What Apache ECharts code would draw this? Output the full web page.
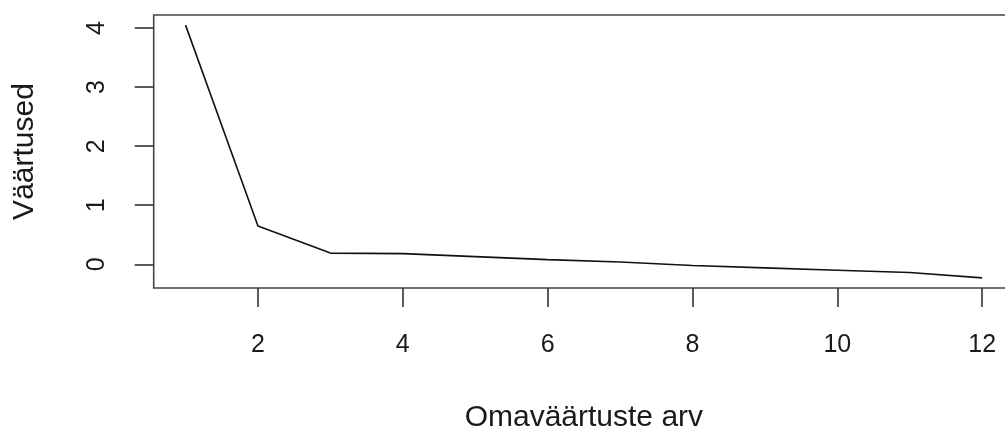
<!DOCTYPE html>
<html>
<head>
<meta charset="utf-8">
<script src="https://cdn.jsdelivr.net/npm/echarts@6/dist/echarts.min.js"></script>
<style>html,body{margin:0;padding:0;background:#fff}#c{width:1005px;height:436px}</style>
</head>
<body>
<div id="c"></div>
<script>
const xs = [1, 2, 3, 4, 5, 6, 7, 8, 9, 10, 11, 12];
const values = [4.05, 0.65, 0.19, 0.18, 0.13, 0.08, 0.04, -0.02, -0.06, -0.10, -0.14, -0.23];
const xTicks = [2, 4, 6, 8, 10, 12];
const yTicks = [0, 1, 2, 3, 4];
const xTitle = 'Omaväärtuste arv';
const yTitle = 'Väärtused';

const xMinD = Math.min(...xs), xMaxD = Math.max(...xs);
const yMinD = Math.min(...values), yMaxD = Math.max(...values);
const xPad = 0.04 * (xMaxD - xMinD), yPad = 0.04 * (yMaxD - yMinD);

const font = 'Liberation Sans, Arial, Helvetica, sans-serif';
const chart = echarts.init(document.getElementById('c'), null, {renderer: 'canvas'});
chart.setOption({
  animation: false,
  backgroundColor: '#fff',
  grid: {left: 153.7, top: 15, right: -9, bottom: 148, containLabel: false, outerBoundsMode: 'none',
         show: true, borderColor: '#444', borderWidth: 1.6, backgroundColor: 'transparent'},
  xAxis: {
    type: 'value', min: xMinD - xPad, max: xMaxD + xPad,
    splitLine: {show: false},
    axisLine: {show: false, onZero: false},
    axisTick: {show: true, length: 19, inside: false, customValues: xTicks, lineStyle: {color: '#333', width: 1.6}},
    axisLabel: {show: true, customValues: xTicks, margin: 45, color: '#1a1a1a', fontSize: 25, fontFamily: font},
    name: xTitle, nameLocation: 'middle', nameGap: 115,
    nameTextStyle: {color: '#1a1a1a', fontSize: 30, fontFamily: font}
  },
  yAxis: {
    type: 'value', min: yMinD - yPad, max: yMaxD + yPad,
    splitLine: {show: false},
    axisLine: {show: false, onZero: false},
    axisTick: {show: true, length: 19, inside: false, customValues: yTicks, lineStyle: {color: '#333', width: 1.6}},
    axisLabel: {show: true, customValues: yTicks, rotate: 90, margin: 44, color: '#1a1a1a', fontSize: 25, fontFamily: font},
    name: yTitle, nameLocation: 'middle', nameGap: 114, nameRotate: 90,
    nameTextStyle: {color: '#1a1a1a', fontSize: 30, fontFamily: font}
  },
  series: [{
    type: 'line',
    data: xs.map((x, i) => [x, values[i]]),
    showSymbol: false,
    lineStyle: {color: '#111', width: 1.6},
    clip: false
  }]
});
</script>
</body>
</html>
